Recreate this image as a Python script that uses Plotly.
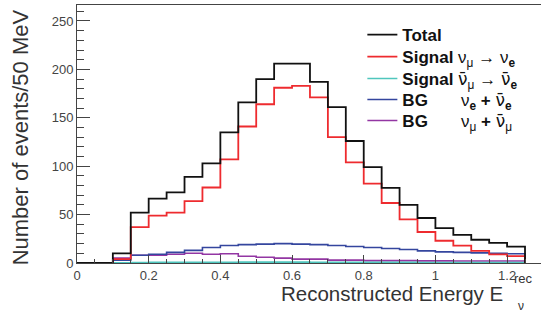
import plotly.graph_objects as go

# bin edges: 0 .. 1.25 GeV in 50 MeV steps
bin_width = 0.05
n_bins = 25
edges = [round(i * bin_width, 2) for i in range(n_bins + 1)]

total = [0, 0, 10, 52, 66.5, 73, 89, 103, 135, 166, 190, 206, 206, 187, 161,
         126, 99, 77.6, 60, 46.5, 36, 29, 24, 20.7, 17]
signal_nu = [0, 0, 4, 37, 49, 52, 64, 78, 107, 141, 164, 181, 183, 171, 130,
             104, 82, 62, 45, 32, 23, 18, 12.5, 9, 7]
signal_nubar = [0, 0, 0.3, 0.5, 0.6, 0.6, 0.7, 0.8, 0.8, 0.9, 0.9, 0.9, 0.9, 0.8, 0.8,
                0.7, 0.7, 0.6, 0.6, 0.5, 0.5, 0.5, 0.4, 0.4, 0.4]
bg_e = [0, 0, 3, 8, 9, 11, 13, 16, 18, 19, 19.5, 20, 19.5, 19, 18,
        17, 16, 15, 14, 12.5, 11.5, 11, 10.5, 10, 9.5]
bg_mu = [0, 0, 5, 8, 8, 9, 10, 9, 9.5, 7, 6, 5, 4, 4, 3,
         3, 2.5, 2.5, 2.5, 2.2, 2.2, 2, 2, 2, 2]

x_ticks = [0, 0.2, 0.4, 0.6, 0.8, 1.0, 1.2]
x_tick_labels = ["0", "0.2", "0.4", "0.6", "0.8", "1", "1.2"]
y_ticks = [0, 50, 100, 150, 200, 250]
y_tick_labels = ["0", "50", "100", "150", "200", "250"]

NB = "\u00a0"
NUB = "<span style='font-family:DejaVu Sans'>ν\u0304</span>"
series = [
    ("<b>Total</b>", total, "#111111", 1.8),
    ("<b>Signal</b> ν<sub>μ</sub> → ν<sub><b>e</b></sub>", signal_nu, "#ee2b2f", 1.8),
    ("<b>Signal</b> " + NUB + "<sub>μ</sub> → " + NUB + "<sub><b>e</b></sub>", signal_nubar, "#4fc6bd", 1.6),
    ("<b>BG</b>" + NB * 7 + "ν<sub><b>e</b></sub> <b>+</b> " + NUB + "<sub><b>e</b></sub>", bg_e, "#34469e", 1.6),
    ("<b>BG</b>" + NB * 7 + "ν<sub>μ</sub> <b>+</b> " + NUB + "<sub>μ</sub>", bg_mu, "#9336a3", 1.6),
]

# legend row centres (pixels from top), plot area spans 5..263 px
row_px = [35, 57, 79, 100, 121]
legend_ids = ["legend", "legend2", "legend3", "legend4", "legend5"]

fig = go.Figure()
order = list(range(len(series)))[::-1]  # black drawn last (on top)
for i in order:
    name, vals, color, w = series[i]
    fig.add_trace(go.Scatter(
        x=edges, y=list(vals) + [0],
        mode="lines", line=dict(color=color, width=w, shape="hv"),
        name=name, showlegend=True, legend=legend_ids[i], hoverinfo="skip",
    ))

legend_layout = {}
for i, lid in enumerate(legend_ids):
    legend_layout[lid] = dict(
        x=0.615, y=(263 - row_px[i]) / 258, xanchor="left", yanchor="middle",
        font=dict(size=17, color="#111111", family="Liberation Sans, Arial, sans-serif"),
        bgcolor="rgba(0,0,0,0)", borderwidth=0, itemwidth=30,
    )

fig.update_layout(
    width=541, height=314,
    margin=dict(l=77, r=0, t=5, b=51),
    paper_bgcolor="white", plot_bgcolor="white",
    font=dict(family="Liberation Sans, Arial, sans-serif", color="#333333"),
    showlegend=True, hovermode=False,
    xaxis=dict(
        range=[0, 1.2946], showgrid=False, zeroline=False,
        showline=True, linecolor="#444444", linewidth=1, mirror=True,
        tickmode="array", tickvals=x_ticks, ticktext=x_tick_labels,
        ticks="inside", ticklen=8, tickcolor="#444444", tickwidth=1,
        tickfont=dict(size=13, color="#444444"),
        minor=dict(dtick=0.05, tick0=0, ticks="inside", ticklen=4, tickcolor="#444444", showgrid=False),
    ),
    yaxis=dict(
        range=[0, 266.5], showgrid=False, zeroline=False,
        showline=True, linecolor="#444444", linewidth=1,
        tickmode="array", tickvals=y_ticks, ticktext=y_tick_labels,
        ticks="inside", ticklen=13, tickcolor="#444444", tickwidth=1,
        tickfont=dict(size=13, color="#444444"),
        minor=dict(dtick=10, tick0=0, ticks="inside", ticklen=7, tickcolor="#444444", showgrid=False),
    ),
    **legend_layout,
)

fig.add_annotation(
    text="Number of events/50 MeV", textangle=-90,
    xref="paper", yref="paper", x=-0.1228, y=0.487,
    xanchor="center", yanchor="middle", showarrow=False,
    font=dict(size=22, color="#333333"),
)
fig.add_annotation(
    text="Reconstructed Energy E",
    xref="paper", yref="paper", x=0.922, y=-0.120,
    xanchor="right", yanchor="middle", showarrow=False,
    font=dict(size=20.5, color="#333333"),
)
fig.add_annotation(
    text="rec", xref="paper", yref="paper", x=(512 - 77) / 464, y=(263 - 278) / 258,
    xanchor="left", yanchor="middle", showarrow=False,
    font=dict(size=13, color="#333333"),
)
fig.add_annotation(
    text="ν", xref="paper", yref="paper", x=(516 - 77) / 464, y=(263 - 306) / 258,
    xanchor="left", yanchor="middle", showarrow=False,
    font=dict(size=12, color="#333333"),
)

fig.write_html(
    "out.html",
    config={"displayModeBar": False, "staticPlot": True},
    post_script="document.body.style.margin='0';document.body.style.overflow='hidden';",
)
